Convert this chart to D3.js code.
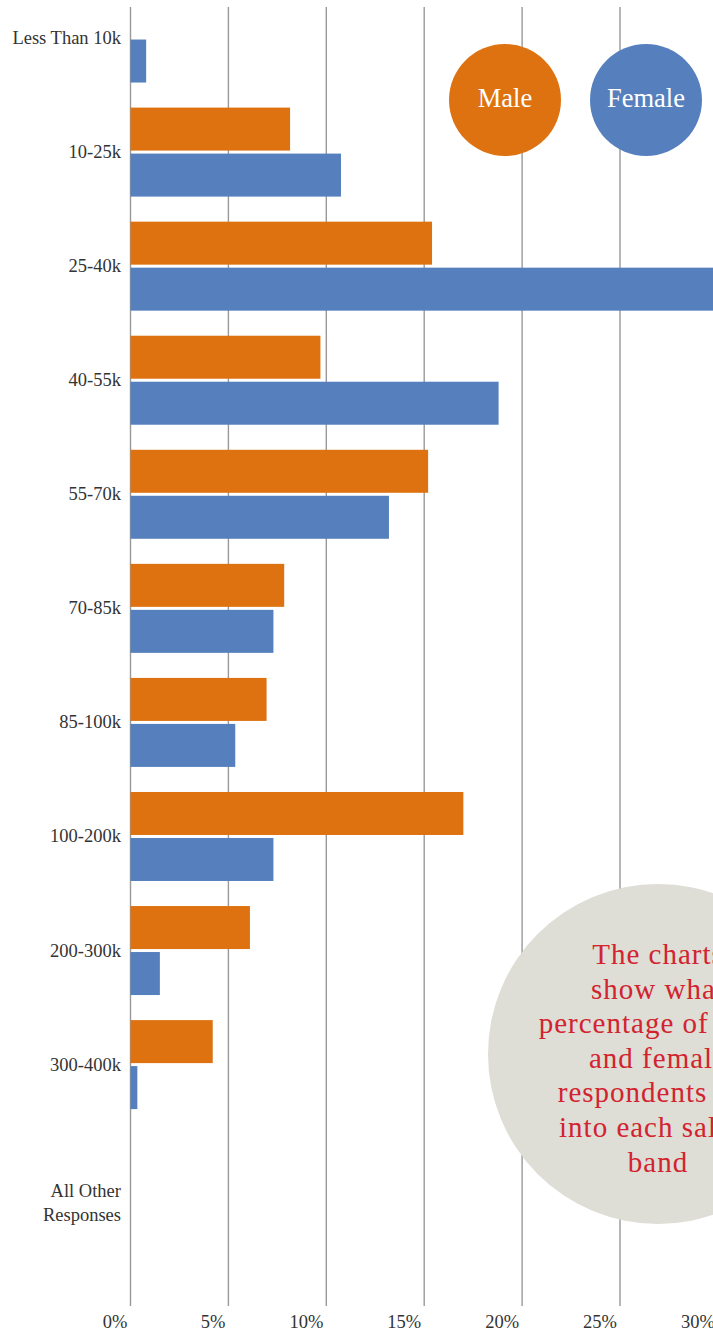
<!DOCTYPE html>
<html>
<head>
<meta charset="utf-8">
<script src="https://cdn.jsdelivr.net/npm/d3@7"></script>
<style>
  html, body { margin: 0; padding: 0; background: #fff; }
  svg { display: block; }
</style>
</head>
<body>
<svg id="chart" width="713" height="1332"></svg>
<script>
// ---- data ----
const categories = ["Less Than 10k", "10-25k", "25-40k", "40-55k", "55-70k", "70-85k",
                    "85-100k", "100-200k", "200-300k", "300-400k", "All Other Responses"];
const maleValues   = [0, 8.15, 15.4, 9.7, 15.2, 7.85, 6.95, 17.0, 6.1, 4.2, 0];
const femaleValues = [0.8, 10.75, 30.0, 18.8, 13.2, 7.3, 5.35, 7.3, 1.5, 0.35, 0];
const seriesNames = ["Male", "Female"];
const tickValues = [0, 5, 10, 15, 20, 25, 30];
const tickLabels = ["0%", "5%", "10%", "15%", "20%", "25%", "30%"];
const noteLines = ["The charts", "show what", "percentage of male", "and female",
                   "respondents fall", "into each salary", "band"];

const colors = { Male: "#DE7210", Female: "#5580BD" };
const serif = "'Liberation Serif', 'DejaVu Serif', serif";

const svg = d3.select("#chart");

const x = d3.scaleLinear().domain([0, 25]).range([130.5, 620]);
const y = d3.scaleBand().domain(categories).range([-19, 1235.7]).paddingInner(0).paddingOuter(0);
const yInner = d3.scaleBand().domain(seriesNames)
  .range([y.bandwidth() / 2 - 44.5, y.bandwidth() / 2 + 44.5])
  .paddingInner(3 / 46).paddingOuter(0);

// gridlines
svg.append("g").selectAll("line").data(tickValues).join("line")
  .attr("x1", d => x(d)).attr("x2", d => x(d))
  .attr("y1", 7).attr("y2", 1306)
  .attr("stroke", "#999").attr("stroke-width", 1.4);

// bars
const rows = categories.map((c, i) => ({ cat: c, Male: maleValues[i], Female: femaleValues[i] }));
const groups = svg.append("g").selectAll("g").data(rows).join("g")
  .attr("transform", d => `translate(0,${y(d.cat)})`);
groups.selectAll("rect")
  .data(d => seriesNames.map(s => ({ s, v: d[s] })).filter(e => e.v > 0))
  .join("rect")
  .attr("x", x(0))
  .attr("y", d => yInner(d.s))
  .attr("width", d => x(d.v) - x(0))
  .attr("height", yInner.bandwidth())
  .attr("fill", d => colors[d.s]);

// category labels
const labelSplit = { "All Other Responses": ["All Other", "Responses"] };
const labels = svg.append("g").selectAll("text").data(categories).join("text")
  .attr("text-anchor", "end")
  .attr("font-family", serif)
  .attr("font-size", 18.5)
  .attr("fill", "#333");
labels.each(function (d) {
  const t = d3.select(this);
  const cy = y(d) + y.bandwidth() / 2;
  const lines = labelSplit[d];
  if (lines) {
    lines.forEach((l, i) => {
      t.append("tspan").attr("x", 121).attr("y", cy + 18.5 + i * 23.5).text(l);
    });
  } else {
    t.attr("x", 121).attr("y", cy + 6).text(d);
  }
});

// x tick labels
svg.append("g").selectAll("text").data(tickValues).join("text")
  .attr("x", d => x(d) - 3)
  .attr("y", 1328)
  .attr("text-anchor", "end")
  .attr("font-family", serif)
  .attr("font-size", 18.5)
  .attr("fill", "#333")
  .text((d, i) => tickLabels[i]);

// legend circles
const legend = svg.append("g").selectAll("g").data(seriesNames).join("g")
  .attr("transform", (d, i) => `translate(${505 + i * 141},100)`);
legend.append("circle").attr("r", 56).attr("fill", d => colors[d]);
legend.append("text")
  .attr("text-anchor", "middle").attr("y", 7)
  .attr("font-family", serif).attr("font-size", 26.5)
  .attr("fill", "#fff").text(d => d);

// note circle
const note = svg.append("g").attr("transform", "translate(658,1054)");
note.append("circle").attr("r", 170).attr("fill", "#DEDDD6");
note.append("g").selectAll("text").data(noteLines).join("text")
  .attr("text-anchor", "middle")
  .attr("y", (d, i) => -90 + i * 34.6)
  .attr("font-family", serif).attr("font-size", 29)
  .attr("letter-spacing", 1)
  .attr("fill", "#D2232E")
  .text(d => d);
</script>
</body>
</html>
